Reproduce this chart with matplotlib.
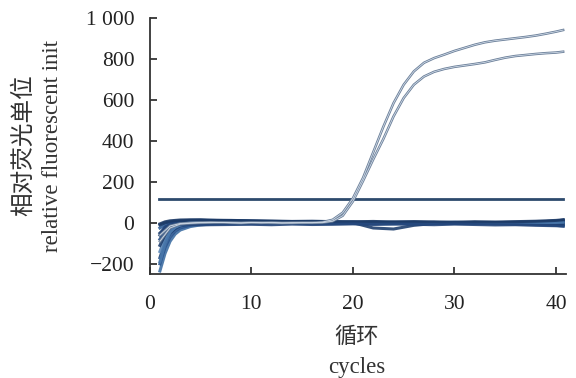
import numpy as np
import matplotlib.pyplot as plt

plt.rcParams['font.family'] = ['Liberation Serif', 'Noto Sans CJK SC']
plt.rcParams['axes.unicode_minus'] = True

# Courbes d'amplification (cycles 1..40 puis fin de trace)
amp_cycles = list(range(1, 41)) + [40.7]
amp_high = [-60, -15, -3, 0, 2, 3, 2, 1, 0, 2, 1, 0, -1, 1, 0, 1,
            4, 15, 50, 120, 220, 345, 470, 585, 675, 740, 782, 805, 822, 840,
            855, 870, 882, 890, 896, 902, 908, 915, 924, 934, 942]
amp_low = [-90, -25, -6, -2, 0, 1, 2, 0, -1, 1, 0, 2, 0, -1, 1, 0,
           1, 8, 35, 105, 205, 310, 410, 520, 610, 675, 715, 738, 752, 762,
           769, 776, 784, 796, 807, 815, 820, 825, 829, 832, 836]

# Seuil
threshold = 118
threshold_span = [0.9, 40.7]

# Courbes de fond (pas d'amplification)
base_cycles = [1, 1.5, 2, 2.5, 3, 4, 5, 6, 8, 10, 12, 14, 16, 18, 20, 22,
               24, 26, 28, 30, 32, 34, 36, 38, 40, 40.7]
base_traces = [
    [-235, -150, -90, -55, -35, -18, -10, -6, -3, -2, 0, 2, -1, 0, 3, -2, -4, 0, 2, -1, 1, -3, 0, 2, 4, 5],
    [-200, -120, -70, -40, -25, -12, -6, -2, 0, 2, 3, 1, 2, 0, -1, 1, 2, -2, 0, 1, -2, 0, -3, -5, -6, -8],
    [-170, -95, -50, -28, -15, -6, -1, 2, 4, 5, 3, 4, 1, 2, 0, -3, -1, 1, -2, 0, 2, 1, 3, 5, 8, 10],
    [-140, -75, -40, -20, -10, -3, 2, 5, 6, 4, 2, 0, 3, 1, 2, 0, -2, -1, 1, 3, 0, -2, -4, -8, -10, -12],
    [-110, -60, -30, -15, -6, 0, 4, 7, 8, 5, 3, 2, 0, -1, 1, -25, -30, -12, -3, 0, -1, -4, -6, -3, 0, 2],
    [-80, -40, -18, -8, -2, 3, 6, 8, 7, 6, 4, 5, 2, 3, 1, 0, 2, 3, 0, -1, -3, -2, 0, 3, 6, 12],
    [-50, -25, -10, -3, 2, 5, 8, 10, 9, 7, 6, 4, 3, 2, 4, 1, 0, 2, 1, 0, 2, -1, 1, 4, 9, 14],
    [-25, -10, -2, 3, 6, 8, 10, 12, 10, 8, 6, 5, 4, 3, 2, 3, 1, 0, -1, 2, 0, 1, -2, -6, -12, -15],
    [-10, 0, 5, 8, 10, 12, 13, 12, 11, 9, 7, 6, 5, 4, 3, 2, 4, 3, 1, 2, 3, 2, 1, 0, -4, -6],
    [-190, -100, -45, -20, -8, 0, 3, 4, 3, 2, 0, -2, -1, 1, 0, -1, -3, -2, 0, 1, -1, -3, -2, 0, 2, 3],
    [-5, 5, 10, 12, 14, 15, 15, 13, 12, 10, 9, 7, 8, 6, 5, 7, 4, 6, 5, 3, 5, 4, 6, 8, 12, 15],
    [-60, -20, -8, -4, -6, -8, -10, -9, -8, -7, -9, -6, -8, -7, -5, -8, -6, -7, -9, -6, -8, -10, -9, -12, -14, -16],
]
base_colors = ['#3f6fa3', '#2a5590', '#1d4478', '#5d88b8', '#1f3f6e',
               '#264d85', '#1b3a68', '#2f5d95', '#1a3b6b', '#4a79ad',
               '#1c3a66', '#23457a']

xticks = [0, 10, 20, 30, 40]
yticks = [-200, 0, 200, 400, 600, 800, 1000]
ytick_labels = ['\u2212200', '0', '200', '400', '600', '800', '1 000']

fig = plt.figure(figsize=(5.76, 3.78), dpi=100)
ax = fig.add_axes([0.260, 0.275, 0.723, 0.677])

for tr, c in zip(base_traces, base_colors):
    ax.plot(base_cycles, tr, color=c, lw=2.2, alpha=0.9, zorder=2)

ax.plot(threshold_span, [threshold, threshold], color='#2d4a6d', lw=2.0, zorder=3)

for vals in (amp_high, amp_low):
    ax.plot(amp_cycles, vals, color='#6a7e98', lw=1.8, zorder=4)
    ax.plot(amp_cycles, vals, color='#d0dbe8', lw=0.6, zorder=5)

ax.set_xlim(0, 41)
ax.set_ylim(-250, 1000)
ax.set_xticks(xticks)
ax.set_yticks(yticks)
ax.set_yticklabels(ytick_labels)
ax.tick_params(direction='in', length=5, width=1.2, labelsize=15.5,
               colors='#222222', pad=11)
ax.tick_params(axis='x', pad=15)
for s in ['top', 'right']:
    ax.spines[s].set_visible(False)
for s in ['left', 'bottom']:
    ax.spines[s].set_linewidth(1.3)
    ax.spines[s].set_color('#333333')

# Titres des axes
fig.text(24 / 576, 1 - 145 / 378, '相对荧光单位', rotation=90, fontsize=17,
         ha='center', va='center', color='#333333')
fig.text(53 / 576, 1 - 146 / 378, 'relative fluorescent init', rotation=90,
         fontsize=16.5, ha='center', va='center', color='#333333')
fig.text(357 / 576, 1 - 337 / 378, '循环', fontsize=16,
         ha='center', va='center', color='#333333')
fig.text(357 / 576, 1 - 367 / 378, 'cycles', fontsize=16.5, ha='center',
         va='center', color='#333333')

fig.savefig('out.png', dpi=100)
